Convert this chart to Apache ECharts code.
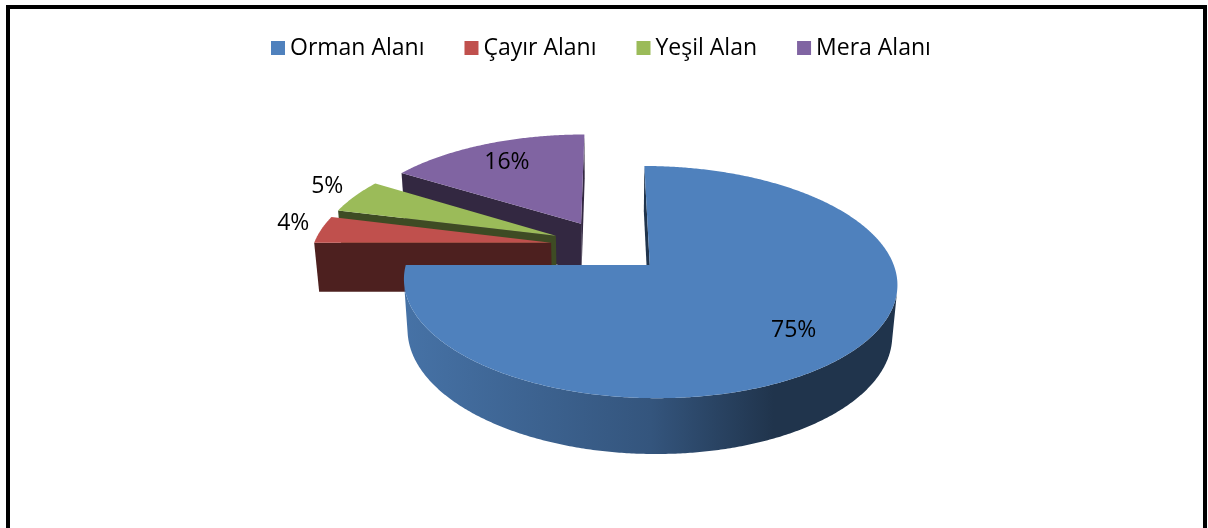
<!DOCTYPE html>
<html>
<head>
<meta charset="utf-8">
<title>Arazi Dağılımı</title>
<script src="https://cdn.jsdelivr.net/npm/echarts@6/dist/echarts.min.js"></script>
<style>
  html, body { margin: 0; padding: 0; background: #fff; }
  #chart { width: 1208px; height: 528px; }
</style>
</head>
<body>
<div id="chart"></div>
<script>
  var categories = ['Orman Alanı', 'Çayır Alanı', 'Yeşil Alan', 'Mera Alanı'];
  var shares = [75, 4, 5, 16];
  var colors = ['#4F81BD', '#C0504D', '#9BBB59', '#8064A2'];

  // fake 3D view of the pie: tilt, camera distance, focal length, screen centre
  var TILT = 27 * Math.PI / 180;
  var DIST = 6.19, FOCAL = 1473, CX = 608, CY = 246;
  var DEPTH = 0.236, EXPLODE = 0.242;
  var camY = DIST * Math.cos(TILT);
  var FONT = '"Open Sans", "DejaVu Sans", sans-serif';

  var total = shares.reduce(function (s, v) { return s + v; }, 0);

  function shade(hex, f) {
    var n = parseInt(hex.slice(1), 16);
    var r = Math.round(((n >> 16) & 255) * f);
    var g = Math.round(((n >> 8) & 255) * f);
    var b = Math.round((n & 255) * f);
    return 'rgb(' + r + ',' + g + ',' + b + ')';
  }

  function project(X, Y, Z) {
    var v = Y * Math.sin(TILT) - Z * Math.cos(TILT);
    var w = DIST - Y * Math.cos(TILT) - Z * Math.sin(TILT);
    return [CX + FOCAL * X / w, CY + FOCAL * v / w];
  }

  function angles(i, value) {
    var before = 0;
    for (var j = 0; j < i; j++) before += shares[j];
    var a0 = before / total * Math.PI * 2;
    var a1 = (before + value) / total * Math.PI * 2;
    return [a0, a1, (a0 + a1) / 2];
  }

  function makeRender(i) {
    return function (params, api) {
      var value = api.value(0);
      var a = angles(i, value), a0 = a[0], a1 = a[1], mid = a[2];
      var ox = EXPLODE * Math.sin(mid), oy = -EXPLODE * Math.cos(mid);
      var color = colors[i];
      var dark = shade(color, 0.4);
      var children = [];

      // the two cut faces, only when they face the camera
      [[a0, -1], [a1, 1]].forEach(function (f) {
        var nx = f[1] * Math.cos(f[0]), ny = f[1] * Math.sin(f[0]);
        if (nx * (0 - ox) + ny * (camY - oy) <= 0) return;
        var rx = ox + Math.sin(f[0]), ry = oy - Math.cos(f[0]);
        children.push({
          type: 'polygon', z2: 1,
          shape: { points: [project(ox, oy, 0), project(rx, ry, 0), project(rx, ry, -DEPTH), project(ox, oy, -DEPTH)] },
          style: { fill: dark }
        });
      });

      // outer wall
      var steps = Math.max(2, Math.ceil((a1 - a0) / (Math.PI / 360)));
      var topPts = [], botPts = [];
      var rim = [];
      for (var k = 0; k <= steps; k++) {
        var c = a0 + (a1 - a0) * k / steps;
        var px = ox + Math.sin(c), py = oy - Math.cos(c);
        rim.push(project(px, py, 0));
        var dot = Math.sin(c) * (0 - px) + (-Math.cos(c)) * (camY - py);
        if (dot > 0) {
          topPts.push(project(px, py, 0));
          botPts.push(project(px, py, -DEPTH));
        }
      }
      if (topPts.length > 1) {
        var xs = topPts.map(function (p) { return p[0]; });
        var xMin = Math.min.apply(null, xs), xMax = Math.max.apply(null, xs);
        children.push({
          type: 'polygon', z2: 1,
          shape: { points: topPts.concat(botPts.slice().reverse()) },
          style: {
            fill: {
              type: 'linear', x: xMin, y: 0, x2: xMax, y2: 0, global: true,
              colorStops: [
                { offset: 0, color: shade(color, 0.88) },
                { offset: 0.5, color: shade(color, 0.66) },
                { offset: 0.75, color: shade(color, 0.4) },
                { offset: 1, color: shade(color, 0.4) }
              ]
            }
          }
        });
      }

      // top
      children.push({
        type: 'polygon', z2: 2,
        shape: { points: [project(ox, oy, 0)].concat(rim) },
        style: { fill: color }
      });

      // percentage label
      var pct = Math.round(value / total * 100) + '%';
      var pos;
      if (value / total >= 0.1) {
        pos = project(ox + 0.75 * Math.sin(mid), oy - 0.75 * Math.cos(mid), 0);
      } else {
        var apex = project(ox, oy, 0);
        var edge = project(ox + Math.sin(mid), oy - Math.cos(mid), 0);
        var dx = edge[0] - apex[0], dy = edge[1] - apex[1];
        var len = Math.sqrt(dx * dx + dy * dy);
        pos = [edge[0] + dx / len * 28, edge[1] + dy / len * 28 - 4];
      }
      children.push({
        type: 'text', z2: 3, x: pos[0], y: pos[1],
        style: { text: pct, fill: '#000', fontSize: 23, fontFamily: FONT, align: 'center', verticalAlign: 'middle' }
      });

      return { type: 'group', children: children };
    };
  }

  // back slices first, front slices last
  function frontness(i) {
    return -Math.cos(angles(i, shares[i])[2]);
  }

  var chart = echarts.init(document.getElementById('chart'));
  chart.setOption({
    animation: false,
    backgroundColor: '#fff',
    legend: {
      data: categories,
      left: 266,
      top: 30,
      icon: 'rect',
      itemWidth: 14,
      itemHeight: 14,
      itemGap: 40,
      textStyle: { fontFamily: FONT, fontSize: 23, color: '#000', lineHeight: 26 }
    },
    graphic: [{
      type: 'rect', z: -1, silent: true,
      shape: { x: 8, y: 7, width: 1197, height: 560 },
      style: { fill: 'none', stroke: '#000', lineWidth: 4 }
    }],
    series: categories.map(function (name, i) {
      return {
        type: 'custom',
        name: name,
        coordinateSystem: 'none',
        data: [[shares[i]]],
        itemStyle: { color: colors[i] },
        z: 2 + frontness(i),
        renderItem: makeRender(i)
      };
    })
  });
</script>
</body>
</html>
